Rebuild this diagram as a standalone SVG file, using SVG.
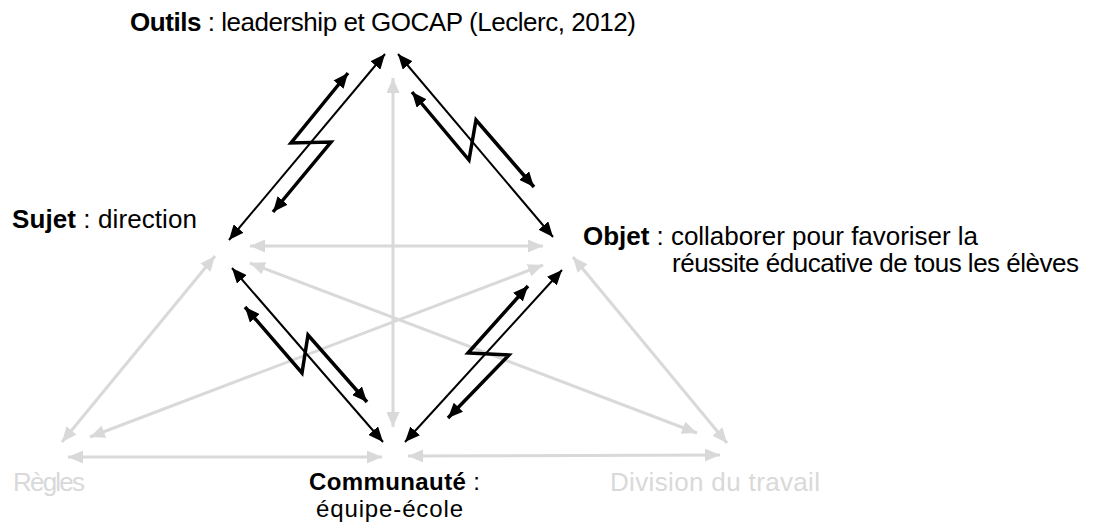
<svg xmlns="http://www.w3.org/2000/svg" width="1107" height="524" viewBox="0 0 1107 524">
<style>
.t{font-family:"Liberation Sans",Arial,sans-serif;font-size:26px;fill:#000}
.s{font-size:24px}
.g{fill:#d9d9d9}
.b{font-weight:bold}
.ga{stroke:#d9d9d9;stroke-width:3;fill:none;marker-start:url(#ag);marker-end:url(#ag)}
.ka{stroke:#000;stroke-width:2;fill:none;marker-start:url(#ak);marker-end:url(#ak)}
.zz{stroke:#000;stroke-width:3.5;fill:none;stroke-linejoin:miter;marker-start:url(#ak);marker-end:url(#ak)}
</style>
<defs>
<marker id="ag" markerUnits="userSpaceOnUse" markerWidth="15" markerHeight="13" viewBox="0 0 15 13" refX="15" refY="6.5" orient="auto-start-reverse"><path d="M0,0 L15,6.5 L0,13 z" fill="#d9d9d9"/></marker>
<marker id="ak" markerUnits="userSpaceOnUse" markerWidth="15" markerHeight="13" viewBox="0 0 15 13" refX="15" refY="6.5" orient="auto-start-reverse"><path d="M0,0 L15,6.5 L0,13 z" fill="#000"/></marker>
</defs>
<g id="connectors">
<line class="ga" x1="393" y1="78" x2="393" y2="427"/>
<line class="ga" x1="250" y1="246" x2="543" y2="246"/>
<line class="ga" x1="215" y1="256" x2="62" y2="442"/>
<line class="ga" x1="90" y1="437" x2="543" y2="265"/>
<line class="ga" x1="250" y1="263" x2="697" y2="433"/>
<line class="ga" x1="573" y1="257" x2="727" y2="443"/>
<line class="ga" x1="68" y1="457" x2="382" y2="457"/>
<line class="ga" x1="408" y1="456" x2="720" y2="455"/>
<line class="ka" x1="385" y1="54" x2="229" y2="240"/>
<line class="ka" x1="398" y1="54" x2="553" y2="237"/>
<line class="ka" x1="232" y1="268" x2="383" y2="442"/>
<line class="ka" x1="562" y1="270" x2="405" y2="442"/>
<polyline class="zz" points="348,73 291,143 331,142 273,212"/>
<polyline class="zz" points="412,92 469,160 476,120 534,187"/>
<polyline class="zz" points="245,307 302,373 308,335 367,402"/>
<polyline class="zz" points="528,286 468,353 509,355 448,418"/>
</g>
<g id="outils"><text class="t" x="130" y="31" textLength="506" lengthAdjust="spacing"><tspan class="b">Outils</tspan> : leadership et GOCAP (Leclerc, 2012)</text></g>
<g id="sujet"><text class="t" x="12" y="228" textLength="185" lengthAdjust="spacing"><tspan class="b">Sujet</tspan> : direction</text></g>
<g id="objet"><text class="t" x="583" y="245" textLength="395" lengthAdjust="spacing"><tspan class="b">Objet</tspan> : collaborer pour favoriser la</text>
<text class="t" x="672" y="272" textLength="407" lengthAdjust="spacing">réussite éducative de tous les élèves</text></g>
<g id="regles"><text class="t g" x="13" y="491" textLength="72" lengthAdjust="spacing">Règles</text></g>
<g id="communaute"><text class="t s" x="309" y="490" textLength="171" lengthAdjust="spacing"><tspan class="b">Communauté</tspan> :</text>
<text class="t s" x="316" y="517" textLength="147" lengthAdjust="spacing">équipe-école</text></g>
<g id="division"><text class="t g" x="610" y="491" textLength="210" lengthAdjust="spacing">Division du travail</text></g>
</svg>
